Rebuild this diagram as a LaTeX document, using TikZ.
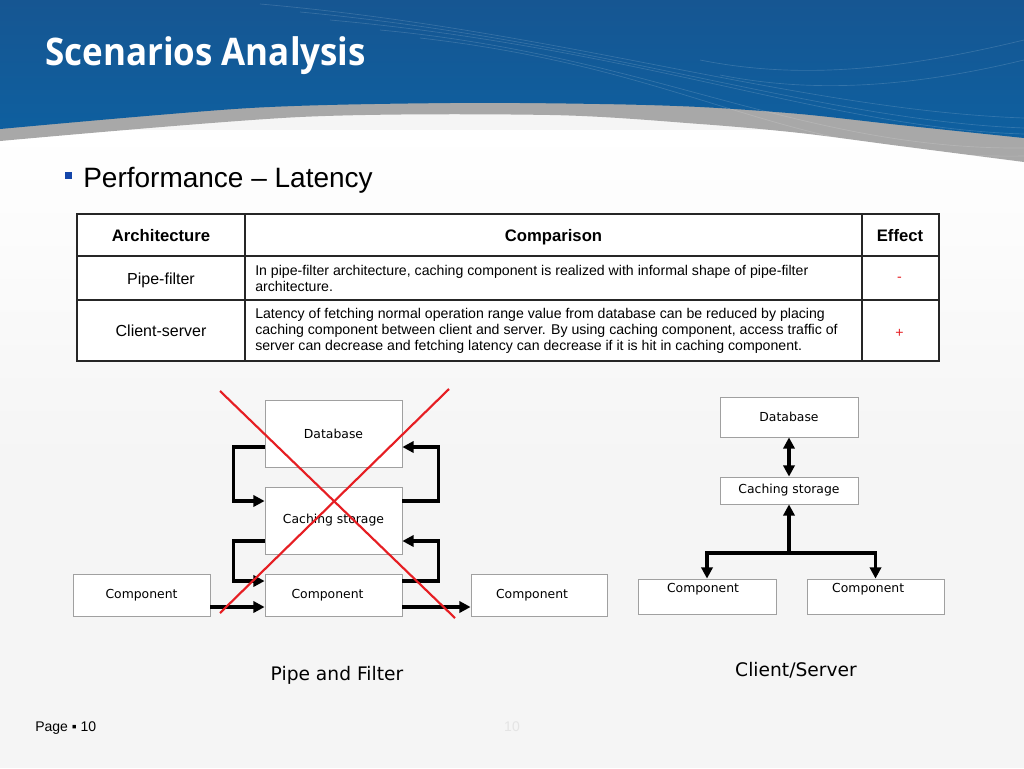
\documentclass[tikz,border=0pt]{standalone}
\usepackage{graphicx}
\usepackage{fontspec}
\setmainfont{Liberation Sans}
\newfontfamily\titlefont{Open Sans}
\newfontfamily\dgfont{DejaVu Sans}
\usetikzlibrary{arrows.meta,calc}
\definecolor{bgc}{RGB}{245,245,245}
\definecolor{hblueT}{RGB}{22,86,146}
\definecolor{hblueB}{RGB}{14,96,160}
\definecolor{hgray}{RGB}{168,168,168}
\definecolor{xred}{RGB}{230,30,35}
\definecolor{bulletblue}{RGB}{20,70,170}
\definecolor{boxgray}{RGB}{160,160,160}
\definecolor{fainttext}{RGB}{228,228,228}
\begin{document}
\begin{tikzpicture}[x=0.75pt,y=-0.75pt,
  box/.style={draw=boxgray, fill=white, line width=0.6pt, inner sep=0pt, font=\dgfont\fontsize{9.3}{11}\selectfont},
  arr/.style={line width=2.6pt, line join=miter, -{Triangle[length=8.5pt,width=8.5pt]}},
  arrboth/.style={line width=2.6pt, {Triangle[length=8.5pt,width=8.5pt]}-{Triangle[length=8.5pt,width=8.5pt]}},
  redx/.style={draw=xred, line width=1.6pt},
  tline/.style={line width=1.1pt, draw=black!85},
  hcell/.style={font=\bfseries\fontsize{12.5}{14}\selectfont, anchor=base, inner sep=0pt},
  acell/.style={font=\fontsize{12}{14}\selectfont, anchor=base, inner sep=0pt},
  ctext/.style={font=\fontsize{10.6}{12}\selectfont, anchor=base west, inner sep=0pt},
  eff/.style={font=\fontsize{10.6}{12}\selectfont, text=xred, inner sep=0pt},
  caption/.style={font=\dgfont\fontsize{14}{16}\selectfont, anchor=base, inner sep=0pt},
  deco/.style={draw=white, line width=0.5pt, opacity=0.15}
]
\useasboundingbox (0,0) rectangle (1024,768);
% background
\fill[bgc] (0,0) rectangle (1024,768);
\shade[top color=white, bottom color=bgc] (0,130) rectangle (1024,460);
% header gray band
\fill[hgray] (0,0) -- (1024,0) -- plot[smooth] coordinates {(1024,162) (900,146) (800,133) (700,124) (550,115) (300,117) (0,141)} -- cycle;
% header blue
\shade[top color=hblueT, bottom color=hblueB] (0,0) -- (1024,0) -- plot[smooth] coordinates {(1024,138) (900,125) (800,114) (700,107) (600,104) (450,103) (250,108) (0,129)} -- cycle;
% decorative wave lines
\draw[deco] (260,4) .. controls (560,30) and (800,110) .. (1024,118);
\draw[deco] (300,12) .. controls (600,40) and (820,120) .. (1024,128);
\draw[deco] (330,20) .. controls (640,48) and (830,128) .. (1024,134);
\draw[deco] (380,30) .. controls (650,55) and (800,150) .. (1024,148);
\draw[deco] (420,38) .. controls (700,70) and (780,160) .. (1024,156);
\draw[deco] (700,60) .. controls (800,80) and (900,70) .. (1024,40);
\draw[deco] (720,75) .. controls (820,95) and (920,85) .. (1024,60);
% title
\node[anchor=base west, text=white, font=\titlefont\bfseries\fontsize{28.5}{30}\selectfont, inner sep=0pt] (title) at (45,65) {\scalebox{0.92}[1]{Scenarios Analysis}};
% bullet line
\node[fill=bulletblue, minimum size=5.25pt, inner sep=0pt] (bul) at (68.5,175.5) {};
\node[anchor=base west, font=\fontsize{21}{24}\selectfont, inner sep=0pt] (perf) at (83,187) {Performance – Latency};
% table
\fill[white] (77,214) rectangle (939,361);
\draw[tline] (77,214) rectangle (939,361);
\draw[tline] (245,214) -- (245,361);
\draw[tline] (862,214) -- (862,361);
\draw[tline] (77,256) -- (939,256);
\draw[tline] (77,300) -- (939,300);
\node[hcell] (hA) at (161,241) {Architecture};
\node[hcell] (hC) at (553.5,241) {Comparison};
\node[hcell] (hE) at (900,241) {Effect};
\node[acell] (aP) at (161,284) {Pipe-filter};
\node[acell] (aC) at (161,336) {Client-server};
\node[ctext] (c1a) at (255,275.7) {In pipe-filter architecture, caching component is realized with informal shape of pipe-filter};
\node[ctext] (c1b) at (255,291.7) {architecture.};
\node[ctext] (c2a) at (255,318.3) {Latency of fetching normal operation range value from database can be reduced by placing};
\node[ctext] (c2b) at (255,334) {caching component between client and server. By using caching component, access traffic of};
\node[ctext] (c2c) at (255,350) {server can decrease and fetching latency can decrease if it is hit in caching component.};
\node[eff] (eP) at (899.5,279) {-};
\node[eff] (eC) at (899.5,333) {+};
% pipe and filter diagram
\node[box, minimum width=102.75pt, minimum height=50.25pt] (pfdb) at (333.5,433.5) {Database};
\node[box, minimum width=102.75pt, minimum height=50.25pt] (pfcs) at (333.5,520.5) {Caching storage};
\node[box, minimum width=102.75pt, minimum height=31.5pt] (pfc1) at (141.5,595) {Component};
\node[box, minimum width=102.75pt, minimum height=31.5pt] (pfc2) at (333.5,595) {\hspace*{-9pt}Component};
\node[box, minimum width=102pt, minimum height=31.5pt] (pfc3) at (539,595) {\hspace*{-10.5pt}Component};
\coordinate (L1) at (0,447);
\coordinate (L2) at (0,501);
\coordinate (L3) at (0,541);
\coordinate (L4) at (0,581);
\coordinate (L5) at (0,607);
\draw[arr] (pfdb.west |- L1) -- ++(-31,0) |- (pfcs.west |- L2);
\draw[arr] (pfcs.east |- L2) -- ++(36,0) |- (pfdb.east |- L1);
\draw[arr] (pfcs.west |- L3) -- ++(-31,0) |- (pfc2.west |- L4);
\draw[arr] (pfc2.east |- L4) -- ++(36,0) |- (pfcs.east |- L3);
\draw[arr] (pfc1.east |- L5) -- (pfc2.west |- L5);
\draw[arr] (pfc2.east |- L5) -- (pfc3.west |- L5);
% red cross
\coordinate (x1a) at (220,391);
\coordinate (x1b) at (455,618);
\coordinate (x2a) at (449,389);
\coordinate (x2b) at (220,613);
\draw[redx] (x1a) -- (x1b);
\draw[redx] (x2a) -- (x2b);
\node[caption] (pflab) at (337,680) {Pipe and Filter};
% client server diagram
\node[box, minimum width=103.5pt, minimum height=30pt] (csdb) at (789,417) {Database};
\node[box, minimum width=103.5pt, minimum height=20.25pt] (cscs) at (789,490.5) {Caching storage};
\node[box, minimum width=103.5pt, inner ysep=0pt, text height=9.75pt, text depth=16.5pt] (csc1) at (707,596.5) {\hspace*{-6pt}Component};
\node[box, minimum width=102.75pt, inner ysep=0pt, text height=9.75pt, text depth=16.5pt] (csc2) at (875.5,596.5) {\hspace*{-11pt}Component};
\coordinate (J) at (789,553);
\draw[arrboth] (cscs.north) -- (csdb.south);
\draw[arr] (J) -- (cscs.south);
\draw[arr] (J) -| (csc1.north);
\draw[arr] (J) -| (csc2.north);
\node[caption] (cslab) at (796,676) {Client/Server};
% footer
\node[anchor=base west, font=\fontsize{10.5}{12}\selectfont, inner sep=0pt] (page) at (35,731) {Page ▪ 10};
\node[font=\fontsize{10.5}{12}\selectfont, text=fainttext, inner sep=0pt] (pnum) at (512,727) {10};
\end{tikzpicture}
\end{document}
